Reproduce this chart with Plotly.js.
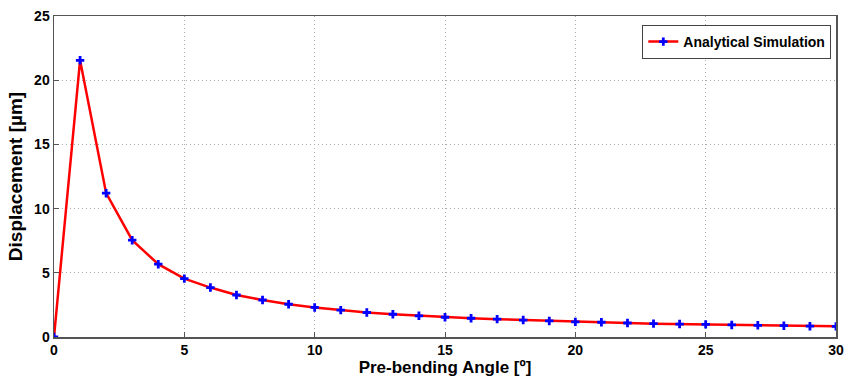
<!DOCTYPE html>
<html>
<head>
<meta charset="utf-8">
<script src="https://cdn.plot.ly/plotly-3.0.1.min.js"></script>
<style>html,body{margin:0;padding:0;background:#fff;}#chart{width:854px;height:379px;}</style>
</head>
<body>
<div id="chart"></div>
<script>
const angles = [0,1,2,3,4,5,6,7,8,9,10,11,12,13,14,15,16,17,18,19,20,21,22,23,24,25,26,27,28,29,30];
const displacement = [0,21.55,11.2,7.54,5.67,4.55,3.85,3.27,2.88,2.55,2.3,2.09,1.91,1.77,1.65,1.54,1.46,1.39,1.32,1.25,1.18,1.15,1.09,1.04,1.01,0.98,0.94,0.91,0.88,0.84,0.83];
const seriesName = 'Analytical Simulation';
const xTicks = [0,5,10,15,20,25,30];
const yTicks = [0,5,10,15,20,25];

const font = 'Liberation Sans, Arial, sans-serif';
const axisCommon = {
  showline: true, mirror: true, linecolor: '#555', linewidth: 1.5,
  ticks: 'inside', ticklen: 5, tickcolor: '#555',
  showgrid: true, gridcolor: '#aaa', griddash: '1px,3px', gridwidth: 1,
  zeroline: false,
  tickfont: {family: font, size: 14, color: '#000', weight: 'bold'}
};
Plotly.newPlot('chart', [{
  x: angles, y: displacement, name: seriesName,
  type: 'scatter', mode: 'lines+markers',
  line: {color: '#ff0000', width: 2.5},
  marker: {color: '#0000ff', symbol: 'cross', size: 7}
}], {
  width: 854, height: 379,
  paper_bgcolor: '#fff', plot_bgcolor: '#fff',
  margin: {l: 53.5, r: 17.5, t: 16, b: 42},
  showlegend: true,
  legend: {
    x: 0.994, y: 0.972, xanchor: 'right', yanchor: 'top',
    bgcolor: '#fff', bordercolor: '#444', borderwidth: 1,
    font: {family: font, size: 14, color: '#000', weight: 'bold'},
    itemwidth: 30, tracegroupgap: 0
  },
  xaxis: Object.assign({}, axisCommon, {
    range: [0, 30], tickvals: xTicks,
    title: {text: 'Pre-bending Angle [º]', standoff: 3, font: {family: font, size: 17, color: '#000', weight: 'bold'}}
  }),
  yaxis: Object.assign({}, axisCommon, {
    range: [0, 25], tickvals: yTicks,
    title: {text: 'Displacement [µm]', standoff: 6, font: {family: font, size: 19, color: '#000', weight: 'bold'}}
  })
}, {displayModeBar: false, staticPlot: true});
</script>
</body>
</html>
